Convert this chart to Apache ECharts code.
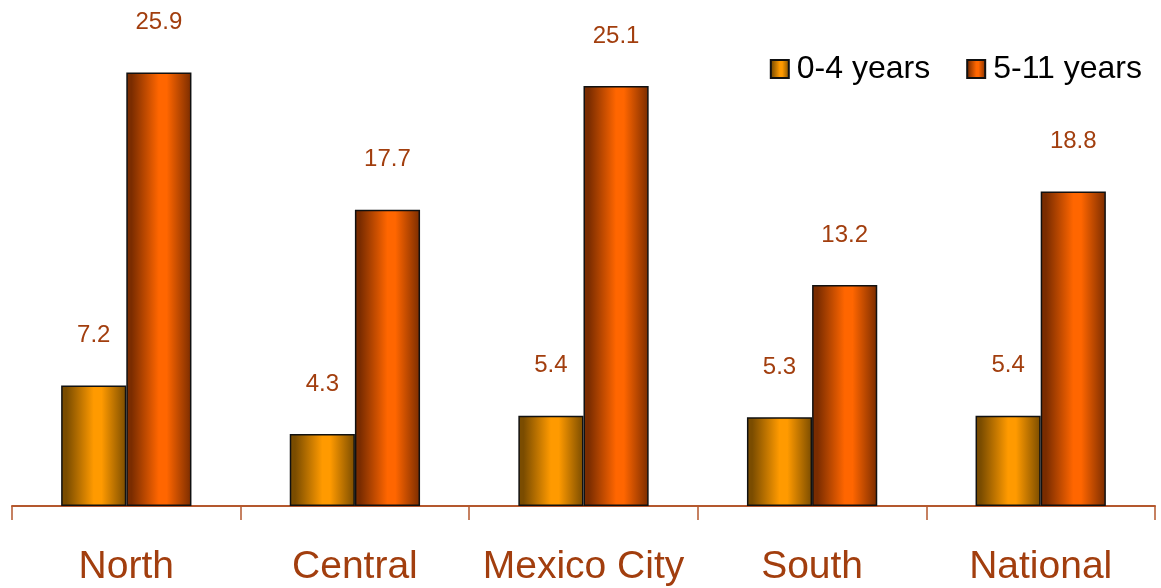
<!DOCTYPE html>
<html>
<head>
<meta charset="utf-8">
<script src="https://cdn.jsdelivr.net/npm/echarts@6/dist/echarts.min.js"></script>
<style>
  html, body { margin: 0; padding: 0; background: #fff; }
  #chart { width: 1161px; height: 588px; }
</style>
</head>
<body>
<div id="chart"></div>
<script>
// Regions and prevalence values by age group
const categories = ['North', 'Central', 'Mexico City', 'South', 'National'];
const age0to4 = [7.2, 4.3, 5.4, 5.3, 5.4];
const age5to11 = [25.9, 17.7, 25.1, 13.2, 18.8];
const seriesNames = ['0-4 years', '5-11 years'];

// Cylinder-like shading: dark edges, bright centre
function shade(edge, mid) {
  return new echarts.graphic.LinearGradient(0, 0, 1, 0, [
    { offset: 0, color: edge },
    { offset: 0.08, color: edge },
    { offset: 0.5, color: mid },
    { offset: 0.62, color: mid },
    { offset: 1, color: edge }
  ]);
}

const font = 'Liberation Sans, Arial, sans-serif';
const labelColor = '#A23E0E';
const valueLabel = {
  show: true,
  position: 'top',
  distance: 38,
  color: labelColor,
  fontSize: 24,
  fontFamily: font,
  formatter: p => p.value.toFixed(1)
};

const chart = echarts.init(document.getElementById('chart'), null, { renderer: 'canvas' });
chart.setOption({
  animation: false,
  textStyle: { fontFamily: font },
  legend: {
    top: 48,
    right: 14,
    itemWidth: 18,
    itemHeight: 18,
    itemGap: 36,
    textStyle: { color: '#000', fontSize: 32, fontFamily: font, padding: [0, 0, 0, 3] },
    data: seriesNames.map(n => ({ name: n, icon: 'rect' }))
  },
  grid: { left: 12, right: 6, top: 4, bottom: 82 },
  xAxis: {
    type: 'category',
    data: categories,
    axisLine: { lineStyle: { color: '#B4582E', width: 2 } },
    axisTick: { show: true, interval: 0, length: 14, lineStyle: { color: '#B4582E', width: 1.5 } },
    axisLabel: { interval: 0, color: labelColor, fontSize: 39, margin: 42, fontFamily: font }
  },
  yAxis: {
    type: 'value',
    min: 0,
    max: 30,
    show: false,
    splitLine: { show: false }
  },
  series: [
    {
      name: seriesNames[0],
      type: 'bar',
      data: age0to4,
      barWidth: '28.5%',
      barGap: '0%',
      itemStyle: { color: shade('#7A4C00', '#FF9A00'), borderColor: '#111', borderWidth: 1.5 },
      label: valueLabel
    },
    {
      name: seriesNames[1],
      type: 'bar',
      data: age5to11,
      barWidth: '28.5%',
      itemStyle: { color: shade('#7A2C00', '#FF6600'), borderColor: '#111', borderWidth: 1.5 },
      label: valueLabel
    }
  ]
});
</script>
</body>
</html>
